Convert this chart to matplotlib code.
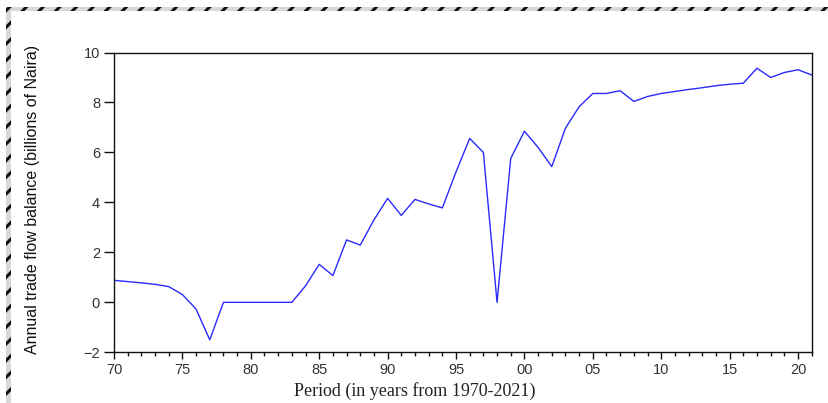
import matplotlib
matplotlib.use("Agg")
import matplotlib.pyplot as plt
from matplotlib.patches import Rectangle
from matplotlib.ticker import MultipleLocator, FixedLocator
from matplotlib import font_manager

years = list(range(1970, 2022))
balance = [0.88, 0.83, 0.78, 0.72, 0.63, 0.31, -0.27, -1.50, 0.00, 0.00,
           0.00, 0.00, 0.00, 0.00, 0.66, 1.52, 1.07, 2.50, 2.29, 3.30,
           4.16, 3.48, 4.12, 3.94, 3.78, 5.22, 6.56, 6.00, 0.00, 5.76,
           6.85, 6.20, 5.43, 6.97, 7.83, 8.36, 8.36, 8.47, 8.04, 8.24,
           8.36, 8.44, 8.52, 8.59, 8.67, 8.73, 8.77, 9.37, 9.00, 9.20,
           9.31, 9.10]
xtick_years = [1970, 1975, 1980, 1985, 1990, 1995, 2000, 2005, 2010, 2015, 2020]
xtick_labels = ["70", "75", "80", "85", "90", "95", "00", "05", "10", "15", "20"]
yticks = [-2, 0, 2, 4, 6, 8, 10]

names = {f.name for f in font_manager.fontManager.ttflist}
narrow = "Liberation Sans Narrow" if "Liberation Sans Narrow" in names else "Liberation Sans"

W, H = 829, 403
fig = plt.figure(figsize=(W / 100, H / 100), dpi=100)
fig.patch.set_facecolor("white")

# hatched border (top and left)
plt.rcParams["hatch.linewidth"] = 2.2
top = Rectangle((6 / W, 1 - 11 / H), 1 - 6 / W, 4 / H, transform=fig.transFigure,
                facecolor="#d8d8d8", edgecolor="#111111", hatch="//", lw=0)
left = Rectangle((6 / W, 0), 5 / W, 1 - 7 / H, transform=fig.transFigure,
                 facecolor="#d8d8d8", edgecolor="#111111", hatch="//", lw=0)
fig.patches.extend([top, left])

ax = fig.add_axes([114 / W, 1 - 352.3 / H, (811.7 - 114) / W, (352.3 - 52.5) / H])
ax.plot(years, balance, color="#2a2aff", lw=1.0)
ax.set_xlim(1970, 2021)
ax.set_ylim(-2, 10)
ax.xaxis.set_major_locator(FixedLocator(xtick_years))
ax.set_xticklabels(xtick_labels)
ax.xaxis.set_minor_locator(MultipleLocator(1))
ax.set_yticks(yticks)
for s in ax.spines.values():
    s.set_linewidth(1.0)
    s.set_color("#111111")
ax.tick_params(axis="both", which="major", direction="out", length=5, width=1,
               labelsize=10.5, pad=3, colors="#111111")
ax.tick_params(axis="x", which="minor", direction="out", length=3, width=1, colors="#111111")
ax.tick_params(axis="y", which="major", length=7)
for lab in ax.get_xticklabels() + ax.get_yticklabels():
    lab.set_fontfamily("Liberation Sans")
    lab.set_color("#333333")

fig.text(415 / W, 1 - 391 / H, "Period (in years from 1970-2021)", ha="center", va="center",
         fontsize=13, family="Liberation Serif", color="#222222")
fig.text(33 / W, 1 - 199 / H, "Annual trade flow balance (billions of Naira)", rotation=90,
         ha="center", va="center", fontsize=11.5, family=narrow, color="#111111")

fig.savefig("out.png", dpi=100, facecolor="white")
